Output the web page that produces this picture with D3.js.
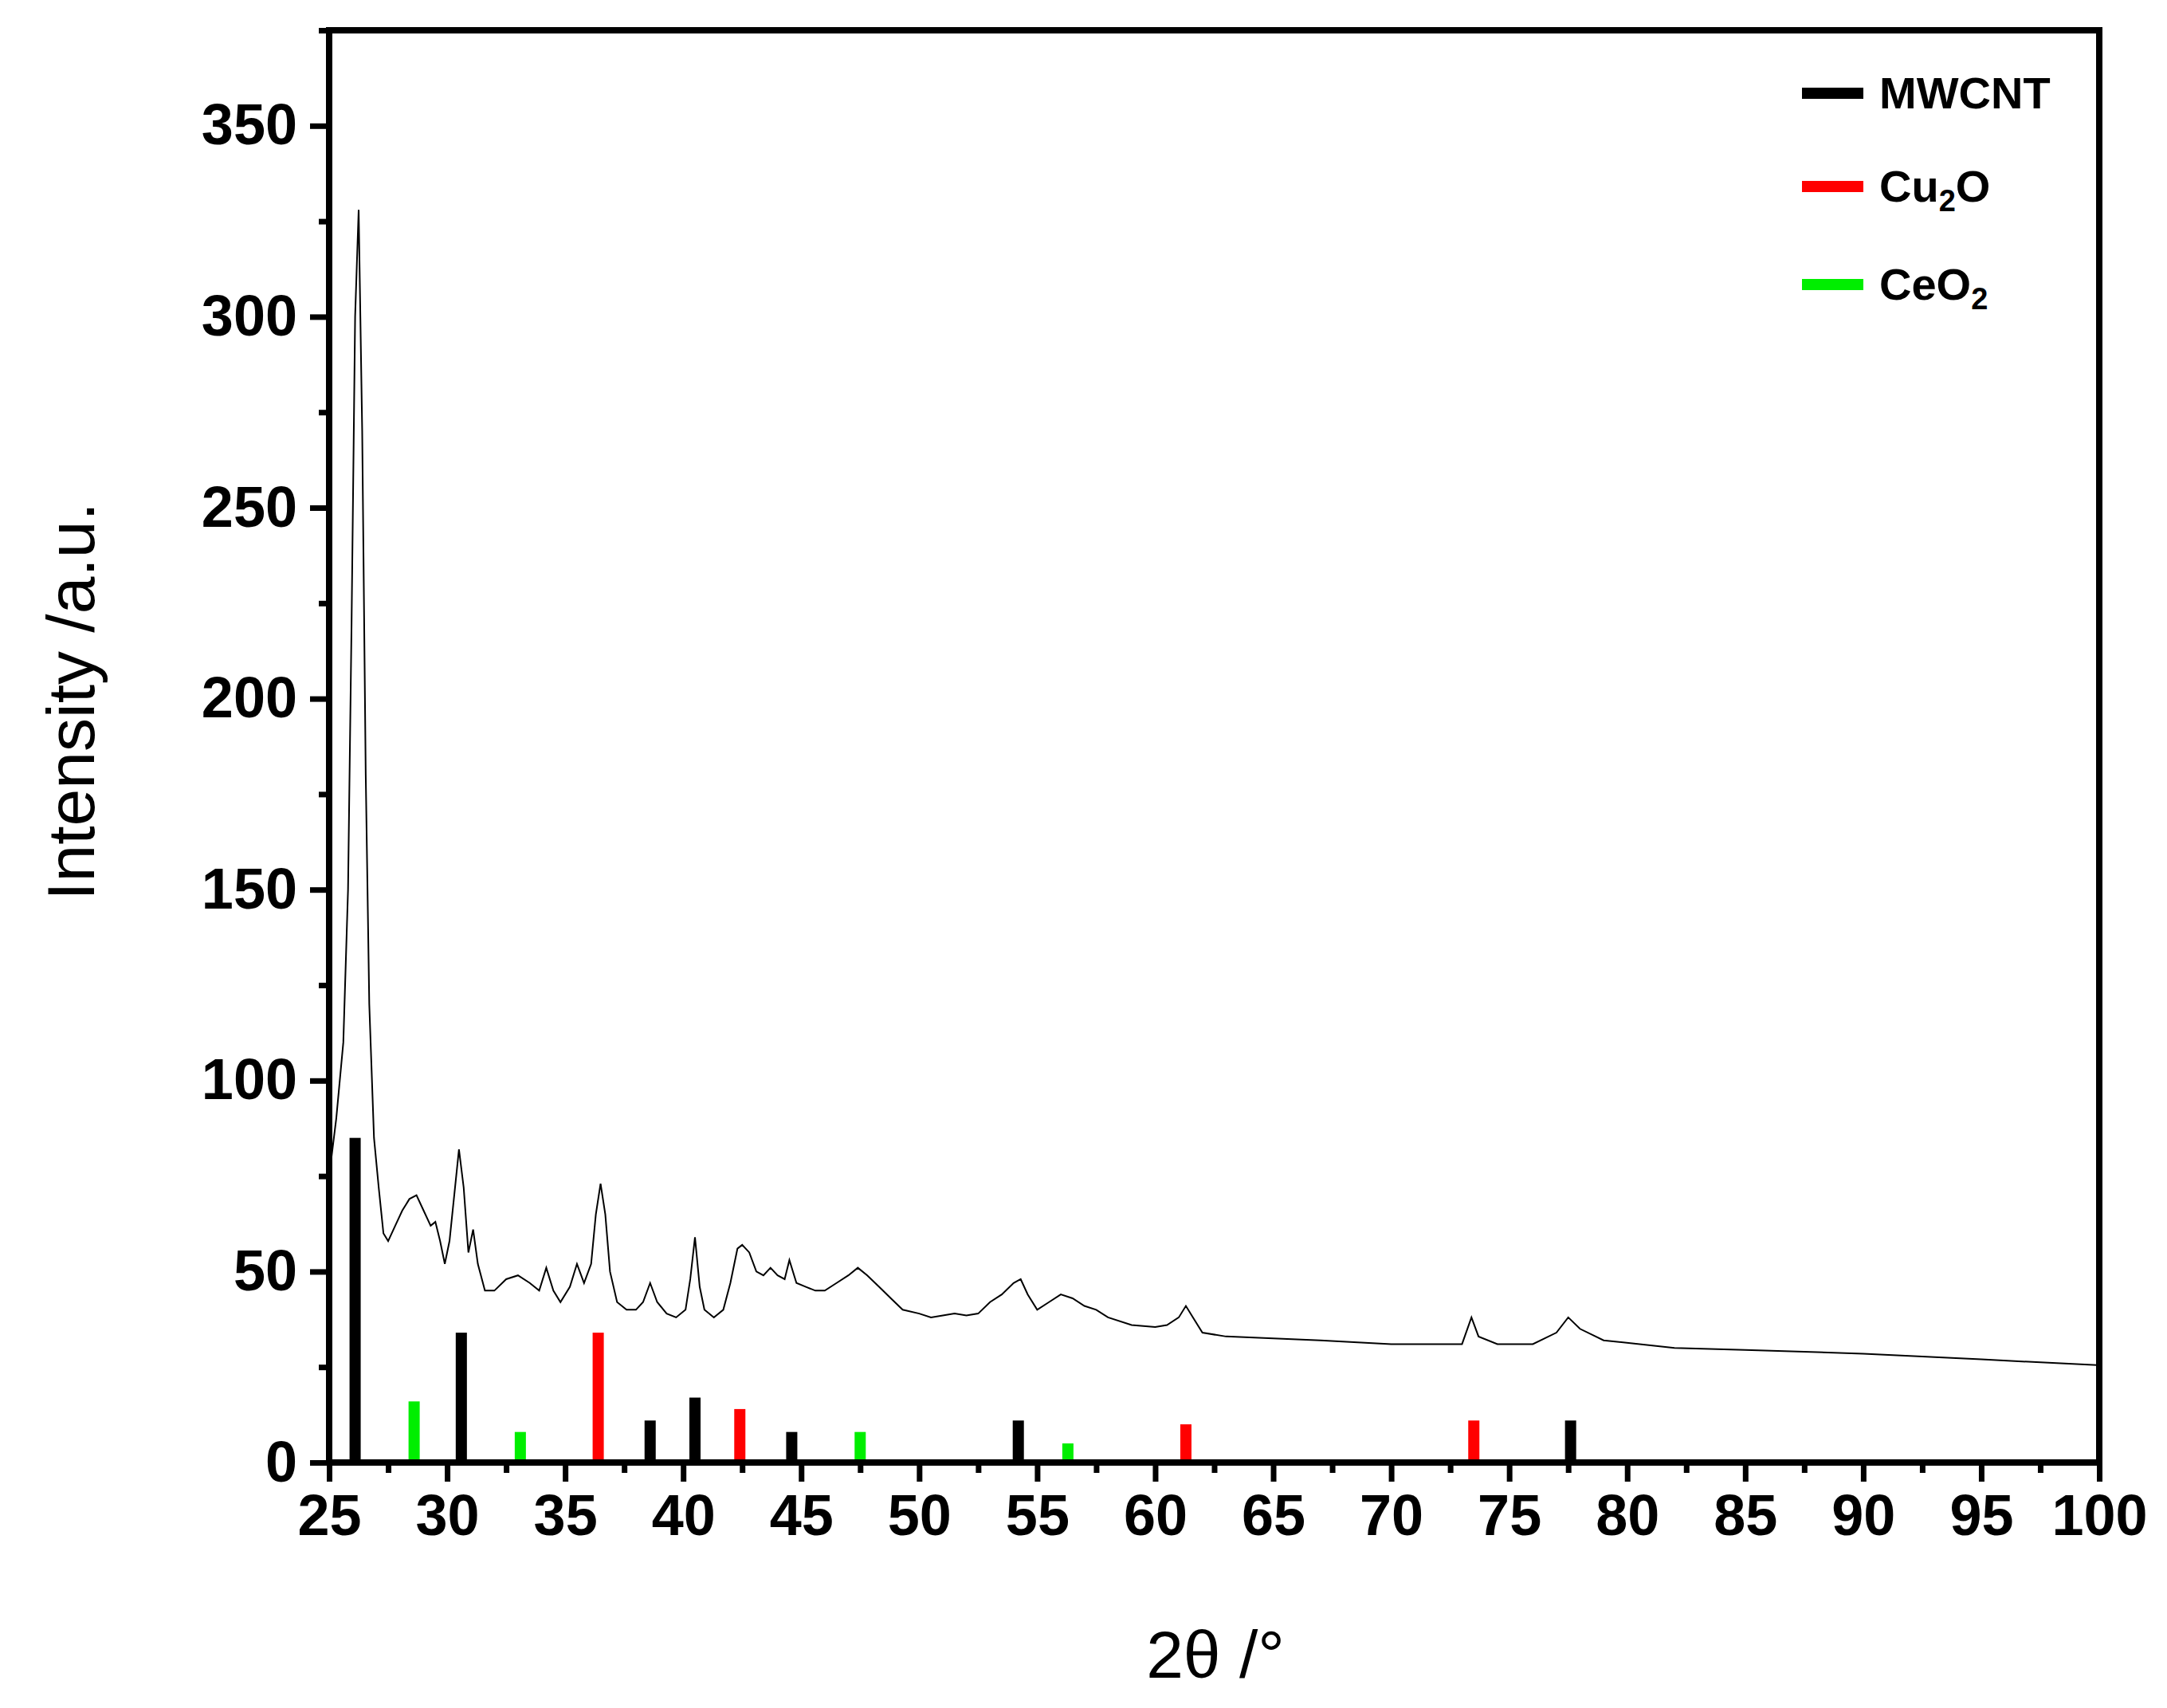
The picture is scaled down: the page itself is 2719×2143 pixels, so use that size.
<!DOCTYPE html>
<html><head><meta charset="utf-8">
<script src="https://cdn.jsdelivr.net/npm/d3@7"></script>
<style>body{margin:0;background:#fff}text{font-family:Arial,"Liberation Sans",sans-serif}</style>
</head><body><svg id="c" width="2719" height="2143"></svg>
<script>
// measured pattern
var twoTheta = [25.0,25.3,25.6,25.8,25.95,26.1,26.25,26.4,26.55,26.7,26.9,27.1,27.3,27.5,27.8,28.1,28.4,28.7,29.0,29.3,29.5,29.7,29.9,30.1,30.3,30.5,30.7,30.9,31.1,31.3,31.6,32.0,32.5,33.0,33.5,33.9,34.2,34.5,34.8,35.2,35.5,35.8,36.1,36.3,36.5,36.7,36.9,37.2,37.6,38.0,38.3,38.6,38.9,39.3,39.7,40.1,40.3,40.5,40.7,40.9,41.3,41.7,42.0,42.3,42.5,42.8,43.1,43.4,43.7,44.0,44.3,44.5,44.8,45.2,45.6,46.0,46.5,47.0,47.4,47.8,48.3,48.8,49.3,50,50.5,51,51.5,52,52.5,53,53.5,54,54.3,54.6,55,55.5,56,56.5,57,57.5,58,59,60,60.5,61,61.3,61.6,62,63,65,67,70,72,73,73.4,73.7,74.5,76,77,77.5,78,79,82,85,90,95,99.9];
var intensity = [75,90,110,150,220,300,328,270,180,120,85,72,60,58,62,66,69,70,66,62,63,58,52,58,70,82,72,55,61,52,45,45,48,49,47,45,51,45,42,46,52,47,52,65,73,65,50,42,40,40,42,47,42,39,38,40,48,59,46,40,38,40,47,56,57,55,50,49,51,49,48,53,47,46,45,45,47,49,51,49,46,43,40,39,38,38.5,39,38.5,39,42,44,47,48,44,40,42,44,43,41,40,38,36,35.5,36,38,41,38,34,33,32.5,32,31,31,31,38,33,31,31,34,38,35,32,30,29.5,28.5,27,25.5];

var mwcntPos = [26.1,30.6,38.6,40.5,44.6,54.2,77.6], mwcntH = [85,34,11,17,8,11,11];
var cu2oPos = [36.4,42.4,61.3,73.5], cu2oH = [34,14,10,11];
var ceo2Pos = [28.6,33.1,47.5,56.3], ceo2H = [16,8,8,5];

var xTicks = d3.range(25,101,5), yTicks = d3.range(0,351,50);

var svg = d3.select('#c');
var L=413,R=2634,T=38,B=1835;
var x = d3.scaleLinear().domain([25,100]).range([L,R]);
var y = d3.scaleLinear().domain([0,375]).range([B,T]);

var refs = [
  {name:'MWCNT',color:'#000',pos:mwcntPos,h:mwcntH},
  {name:'Cu2O',color:'#ff0000',pos:cu2oPos,h:cu2oH},
  {name:'CeO2',color:'#00ee00',pos:ceo2Pos,h:ceo2H}
];
refs.forEach(function(r){
  svg.append('g').selectAll('rect').data(r.pos).enter().append('rect')
    .attr('x',function(d){return x(d)-7;}).attr('width',14)
    .attr('y',function(d,i){return y(r.h[i]);})
    .attr('height',function(d,i){return B-y(r.h[i]);})
    .attr('fill',r.color);
});

var pts = twoTheta.map(function(d,i){return [d,intensity[i]];});
svg.append('path').datum(pts).attr('fill','none').attr('stroke','#000').attr('stroke-width',2)
  .attr('d',d3.line().x(function(d){return x(d[0]);}).y(function(d){return y(d[1]);}));

// frame
svg.append('rect').attr('x',L).attr('y',T).attr('width',R-L).attr('height',B-T)
  .attr('fill','none').attr('stroke','#000').attr('stroke-width',8);

svg.append('g').attr('transform','translate(0,'+B+')')
  .call(d3.axisBottom(x).tickValues(xTicks).tickSize(24).tickPadding(16).tickFormat(d3.format('d')));
svg.append('g').attr('transform','translate(0,'+B+')')
  .call(d3.axisBottom(x).tickValues(d3.range(27.5,100,5)).tickSize(13).tickFormat(''));
svg.append('g').attr('transform','translate('+L+',0)')
  .call(d3.axisLeft(y).tickValues(yTicks).tickSize(24).tickPadding(16));
svg.append('g').attr('transform','translate('+L+',0)')
  .call(d3.axisLeft(y).tickValues(d3.range(25,376,50)).tickSize(13).tickFormat(''));
svg.selectAll('.domain').remove();
svg.selectAll('.tick line').attr('stroke-width',7);
svg.selectAll('.tick text').attr('font-size',72).attr('font-weight','bold').attr('fill','#000');

svg.append('text').attr('x',1525).attr('y',2105).attr('text-anchor','middle').attr('font-size',84).text('2θ /°');
svg.append('text').attr('transform','translate(118,880) rotate(-90)').attr('text-anchor','middle').attr('font-size',84).text('Intensity /a.u.');

var lg = [['MWCNT',null],['Cu','2','O'],['CeO','2','']];
refs.forEach(function(r,i){
  var yy=[117,234,357][i];
  svg.append('line').attr('x1',2261).attr('x2',2338).attr('y1',yy).attr('y2',yy).attr('stroke',r.color).attr('stroke-width',14);
  var t = svg.append('text').attr('x',2358).attr('y',yy+19).attr('font-size',56).attr('font-weight','bold');
  if(i==0){t.text('MWCNT');}
  else{t.append('tspan').text(lg[i][0]);t.append('tspan').attr('font-size',38).attr('dy',12).text(lg[i][1]);
    if(lg[i][2]) t.append('tspan').attr('dy',-12).text(lg[i][2]);}
});
</script></body></html>
